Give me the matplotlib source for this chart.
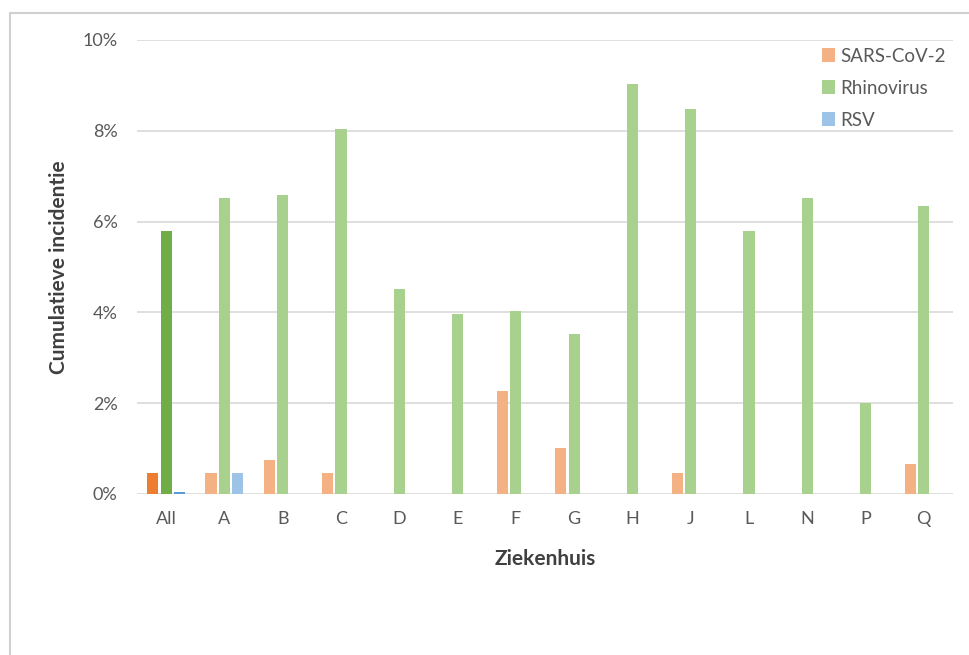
import matplotlib
matplotlib.use("Agg")
import matplotlib.pyplot as plt
import numpy as np
from matplotlib.patches import Rectangle, Patch
from matplotlib.ticker import PercentFormatter

# Data: cumulative incidence (%) per hospital
hospitals = ["All", "A", "B", "C", "D", "E", "F", "G", "H", "J", "L", "N", "P", "Q"]
sars_cov_2 = [0.47, 0.47, 0.75, 0.47, 0.0, 0.0, 2.26, 1.02, 0.0, 0.47, 0.0, 0.0, 0.0, 0.65]
rhinovirus = [5.80, 6.53, 6.58, 8.05, 4.52, 3.97, 4.02, 3.53, 9.03, 8.47, 5.80, 6.53, 2.00, 6.35]
rsv = [0.04, 0.47, 0.0, 0.0, 0.0, 0.0, 0.0, 0.0, 0.0, 0.0, 0.0, 0.0, 0.0, 0.0]
series_names = ["SARS-CoV-2", "Rhinovirus", "RSV"]

light = ["#F4B183", "#A9D18E", "#9DC3E6"]
dark = ["#ED7D31", "#70AD47", "#5B9BD5"]
text_grey = "#595959"

plt.rcParams["font.family"] = ["Lato", "DejaVu Sans"]

fig = plt.figure(figsize=(9.70, 6.55), dpi=100)
fig.patch.set_facecolor("white")

# Chart frame (only left and top edges fall inside the image)
fig.patches.append(Rectangle((10 / 970, -0.05), 1.2, 1 - 13 / 655 + 0.05,
                             transform=fig.transFigure, fill=False,
                             edgecolor="#D0D0D0", linewidth=1.5, zorder=0))

ax = fig.add_axes([137 / 970, 1 - 494 / 655, (953 - 137) / 970, (494 - 40) / 655])

x = np.arange(len(hospitals))
width = 0.19
offsets = [-0.23, 0.0, 0.23]
for vals, off, lc, dc in zip([sars_cov_2, rhinovirus, rsv], offsets, light, dark):
    colors = [dc] + [lc] * (len(hospitals) - 1)
    ax.bar(x + off, vals, width=width, color=colors, zorder=3)

ax.set_xlim(-0.5, len(hospitals) - 0.5)
ax.set_ylim(0, 10)
ax.set_yticks([0, 2, 4, 6, 8, 10])
ax.yaxis.set_major_formatter(PercentFormatter(decimals=0))
ax.set_xticks(x)
ax.set_xticklabels(hospitals)
ax.grid(axis="y", color="#D9D9D9", linewidth=1.2, zorder=0)
for s in ax.spines.values():
    s.set_visible(False)
ax.tick_params(axis="both", length=0, colors=text_grey, labelsize=13)
ax.tick_params(axis="y", pad=14)
ax.tick_params(axis="x", pad=12)

ax.set_ylabel("Cumulatieve incidentie", fontsize=15, fontweight="bold",
              color="#404040", labelpad=10)
ax.set_xlabel("Ziekenhuis", fontsize=15, fontweight="bold",
              color="#404040", labelpad=16)

handles = [Patch(facecolor=c, edgecolor="none") for c in light]
leg = ax.legend(handles, series_names, loc="upper right", bbox_to_anchor=(1.0, 1.0),
                frameon=False, fontsize=13.5, handlelength=0.7, handleheight=0.7,
                handletextpad=0.25, labelspacing=0.8, borderaxespad=0.0)
for t in leg.get_texts():
    t.set_color(text_grey)

fig.savefig("out.png", dpi=100, facecolor="white")
